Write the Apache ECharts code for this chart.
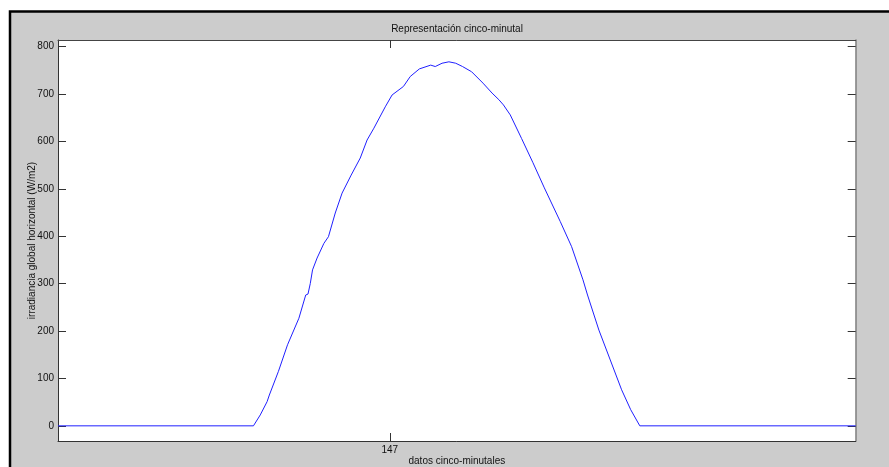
<!DOCTYPE html>
<html>
<head>
<meta charset="utf-8">
<script src="https://cdn.jsdelivr.net/npm/echarts@6/dist/echarts.min.js"></script>
<style>
  html, body { margin: 0; padding: 0; background: #ffffff; }
  #chart { width: 889px; height: 467px; }
</style>
</head>
<body>
<div id="chart"></div>
<script>
// Five-minute sample index (x) and global horizontal irradiance in W/m2 (y)
const sampleIndex = [1, 87, 90, 93, 94, 98, 102, 107, 110, 111, 112, 113, 115, 118, 120, 123, 126, 130, 134, 137, 140, 145, 148, 153, 156, 160, 165, 167, 170, 173, 176, 179, 183, 188, 192, 195, 197, 200, 205, 210, 215, 222, 227, 232, 234, 239, 244, 249, 253, 257, 352];
const irradiance  = [0, 0, 23, 51, 65, 115, 171, 227, 276, 278, 300, 329, 354, 385, 399, 449, 491, 529, 565, 603, 628, 673, 698, 716, 737, 753, 761, 758, 765, 768, 765, 758, 747, 723, 702, 688, 677, 656, 606, 555, 502, 431, 378, 308, 276, 202, 139, 76, 34, 0, 0];

const xTicks = [147];
const yTicks = [0, 100, 200, 300, 400, 500, 600, 700, 800];
const xRange = [1, 352];
const yRange = [-32, 814];

const titleText = 'Representación cinco-minutal';
const xName = 'datos cinco-minutales';
const yName = 'irradiancia global horizontal (W/m2)';

const points = sampleIndex.map((x, i) => [x, irradiance[i]]);

const font = '"Liberation Sans", Arial, sans-serif';
const tickStyle = { inside: true, length: 8, lineStyle: { color: '#333', width: 1 } };

const chart = echarts.init(document.getElementById('chart'), null, { renderer: 'canvas' });
chart.setOption({
  animation: false,
  backgroundColor: '#ffffff',
  graphic: [
    {
      type: 'rect', z: -10, silent: true,
      shape: { x: 10, y: 11.5, width: 900, height: 480 },
      style: { fill: '#cccccc', stroke: '#000000', lineWidth: 2.5 }
    },
    {
      type: 'rect', z: -5, silent: true,
      shape: { x: 58, y: 40, width: 797.7, height: 401 },
      style: { fill: '#ffffff' }
    },
    {
      type: 'text', silent: true,
      style: { x: 457, y: 29, text: titleText, font: '10px ' + font, fill: '#111', align: 'center', verticalAlign: 'middle' }
    }
  ],
  grid: { left: 58, top: 40, right: 33.3, bottom: 26, containLabel: false, outerBoundsMode: 'none' },
  xAxis: [
    {
      type: 'value', min: xRange[0], max: xRange[1], position: 'bottom',
      name: xName, nameLocation: 'middle', nameGap: 15, nameMoveOverlap: false,
      nameTextStyle: { fontFamily: font, fontSize: 10, color: '#111' },
      axisLine: { show: true, onZero: false, lineStyle: { color: '#333', width: 1 } },
      axisTick: Object.assign({ customValues: xTicks }, tickStyle),
      axisLabel: { customValues: xTicks, margin: 4, fontFamily: font, fontSize: 10, color: '#111' },
      splitLine: { show: false }
    },
    {
      type: 'value', min: xRange[0], max: xRange[1], position: 'top',
      axisLine: { show: true, onZero: false, lineStyle: { color: '#444', width: 1 } },
      axisTick: Object.assign({ customValues: xTicks }, tickStyle),
      axisLabel: { show: false },
      splitLine: { show: false }
    }
  ],
  yAxis: [
    {
      type: 'value', min: yRange[0], max: yRange[1], position: 'left',
      name: yName, nameLocation: 'middle', nameGap: 21, nameRotate: 90, nameMoveOverlap: false,
      nameTextStyle: { fontFamily: font, fontSize: 10, color: '#111' },
      axisLine: { show: true, onZero: false, lineStyle: { color: '#333', width: 1 } },
      axisTick: Object.assign({ customValues: yTicks }, tickStyle),
      axisLabel: { customValues: yTicks, margin: 4, fontFamily: font, fontSize: 10, color: '#111' },
      splitLine: { show: false }
    },
    {
      type: 'value', min: yRange[0], max: yRange[1], position: 'right',
      axisLine: { show: true, onZero: false, lineStyle: { color: '#808080', width: 1.5 } },
      axisTick: Object.assign({ customValues: yTicks }, tickStyle),
      axisLabel: { show: false },
      splitLine: { show: false }
    }
  ],
  series: [
    {
      type: 'line',
      data: points,
      xAxisIndex: 0, yAxisIndex: 0,
      showSymbol: false,
      smooth: false,
      lineStyle: { color: '#2020ff', width: 1 },
      itemStyle: { color: '#2020ff' }
    }
  ]
});
</script>
</body>
</html>
